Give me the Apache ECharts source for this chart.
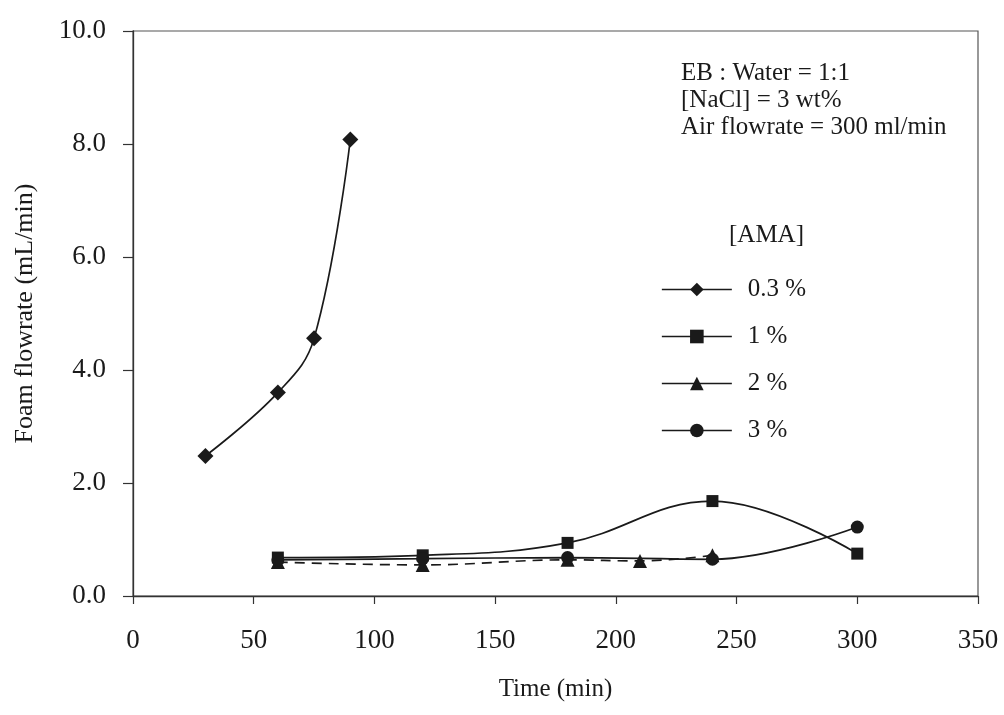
<!DOCTYPE html>
<html>
<head>
<meta charset="utf-8">
<script src="https://cdn.jsdelivr.net/npm/echarts@6/dist/echarts.min.js"></script>
<style>html,body{margin:0;padding:0;background:#fff;}#c{width:1004px;height:715px;}</style>
</head>
<body>
<div id="c"></div>
<script>
// Data (Time min, Foam flowrate mL/min)
const ama03 = [[30, 2.48], [60, 3.60], [75, 4.56], [90, 8.08]];
const ama1 = [[60, 0.68], [120, 0.72], [180, 0.94], [240, 1.68], [300, 0.75]];
const ama2 = [[60, 0.60], [120, 0.55], [180, 0.64], [210, 0.62], [240, 0.72]];
const ama3 = [[60, 0.64], [120, 0.66], [180, 0.68], [240, 0.65], [300, 1.22]];
const seriesNames = ['0.3 %', '1 %', '2 %', '3 %'];
const notes = ['EB : Water = 1:1', '[NaCl] = 3 wt%', 'Air flowrate = 300 ml/min'];
const legendTitle = '[AMA]';
const xName = 'Time (min)';
const yName = 'Foam flowrate (mL/min)';

const FONT = 'Liberation Serif';
const INK = '#1a1a1a';

function mk(name, data, symbol, size, dashed) {
  return {
    name: name, type: 'line', data: data, smooth: 0.4,
    symbol: symbol, symbolSize: size,
    lineStyle: {color: INK, width: 1.7, type: dashed ? [10, 7] : 'solid'},
    itemStyle: {color: INK},
    z: 3
  };
}

const chart = echarts.init(document.getElementById('c'), null, {renderer: 'canvas'});
chart.setOption({
  animation: false,
  backgroundColor: '#fff',
  grid: {left: 133, right: 26, top: 31, bottom: 119, show: true, borderColor: '#555', borderWidth: 1.2, containLabel: false},
  xAxis: {
    type: 'value', min: 0, max: 350, interval: 50,
    name: xName, nameLocation: 'middle', nameGap: 81,
    nameTextStyle: {fontFamily: FONT, fontSize: 25, color: INK},
    axisLine: {show: true, lineStyle: {color: '#333', width: 1.3}},
    axisTick: {show: true, inside: false, length: 8, lineStyle: {color: '#333', width: 1.2}},
    axisLabel: {margin: 31, fontFamily: FONT, fontSize: 27, color: INK},
    splitLine: {show: false}
  },
  yAxis: {
    type: 'value', min: 0, max: 10, interval: 2,
    name: yName, nameLocation: 'middle', nameGap: 95,
    nameTextStyle: {fontFamily: FONT, fontSize: 26, color: INK},
    axisLine: {show: true, lineStyle: {color: '#333', width: 1.3}},
    axisTick: {show: true, inside: false, length: 10, lineStyle: {color: '#333', width: 1.2}},
    axisLabel: {margin: 27, fontFamily: FONT, fontSize: 27, color: INK, formatter: v => v.toFixed(1)},
    splitLine: {show: false}
  },
  legend: {
    orient: 'vertical', left: 656, top: 272,
    itemWidth: 70, itemHeight: 17, itemGap: 22,
    data: seriesNames.map(n => ({name: n, lineStyle: {type: 'solid', width: 1.7, color: INK}})),
    textStyle: {fontFamily: FONT, fontSize: 25, color: INK, padding: [0, 0, 0, 11]},
    inactiveColor: INK
  },
  graphic: [
    {type: 'text', left: 681, top: 60, style: {text: notes.join('\n'), font: '25px "' + FONT + '"', fill: INK, lineHeight: 27}},
    {type: 'text', left: 729, top: 223, style: {text: legendTitle, font: '25px "' + FONT + '"', fill: INK}}
  ],
  series: [
    mk(seriesNames[0], ama03, 'diamond', 16, false),
    mk(seriesNames[1], ama1, 'rect', 12, false),
    mk(seriesNames[2], ama2, 'triangle', 14, true),
    mk(seriesNames[3], ama3, 'circle', 13, false)
  ]
});
</script>
</body>
</html>
